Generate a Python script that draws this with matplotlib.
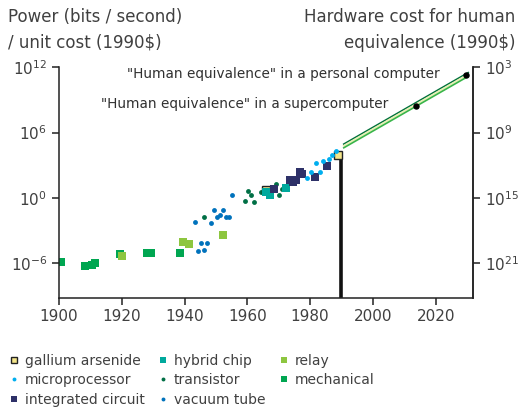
import matplotlib.pyplot as plt
import numpy as np

plt.rcParams['font.family'] = ['DejaVu Sans']
plt.rcParams['axes.unicode_minus'] = False

# log10 of power per unit cost
ga_year = [1965.9, 1989.0]
ga_val = [0.76, 3.95]

micro_year = [1979.1, 1980.2, 1981.9, 1983.2, 1984.2, 1986.0, 1987.0, 1988.2]
micro_val = [1.80, 2.42, 3.24, 2.42, 3.43, 3.55, 3.92, 4.32]

ic_year = [1968.4, 1973.6, 1974.6, 1975.4, 1976.7, 1977.4, 1981.5, 1985.3]
ic_val = [0.85, 1.62, 1.47, 1.62, 2.39, 2.17, 1.89, 2.90]

hybrid_year = [1966.1, 1967.1, 1972.3]
hybrid_val = [0.53, 0.24, 0.95]

trans_year = [1946.2, 1959.2, 1960.3, 1961.2, 1962.2, 1964.2, 1969.2, 1970.2, 1971.0]
trans_val = [-1.75, -0.25, 0.67, 0.30, -0.34, 0.51, 1.31, 0.30, 0.79]

tube_year = [1943.3, 1944.3, 1945.3, 1946.3, 1947.2, 1948.3, 1949.3, 1950.2,
             1951.4, 1952.1, 1953.1, 1954.1, 1955.2]
tube_val = [-2.21, -4.84, -4.11, -4.82, -4.14, -2.33, -1.08, -1.75,
            -1.60, -1.08, -1.78, -1.78, 0.28]

relay_year = [1920.0, 1939.4, 1941.3, 1952.1]
relay_val = [-5.37, -4.08, -4.26, -3.44]

mech_year = [1900.8, 1908.3, 1910.4, 1911.5, 1919.4, 1928.2, 1929.3, 1938.5]
mech_val = [-5.85, -6.29, -6.19, -6.01, -5.18, -5.09, -5.09, -5.09]

# projection band and human-equivalence points
band_year = [1990.5, 2030.6]
band_val = [4.74, 11.38]
human_year = [2013.6, 2029.6]
human_val = [8.48, 11.27]

fig = plt.figure(figsize=(5.21, 4.07), dpi=100)
ax = fig.add_axes([0.1132, 0.2686, 0.9085 - 0.1132, 0.8346 - 0.2686])

def p(v):
    return 10.0 ** np.array(v)

sq = dict(marker='s', linestyle='none', markersize=5.3, markeredgewidth=0)
dot = dict(marker='o', linestyle='none', markersize=3.5, markeredgewidth=0)

ax.plot(mech_year, p(mech_val), color='#00a651', label='mechanical', **sq)
ax.plot(relay_year, p(relay_val), color='#8dc63f', label='relay', **sq)
ax.plot(tube_year, p(tube_val), color='#0072bc', label='vacuum tube', **dot)
ax.plot(trans_year, p(trans_val), color='#006f45', label='transistor', **dot)
ax.plot(ga_year, p(ga_val), marker='s', linestyle='none', markersize=5.3,
        markerfacecolor='#f3e58a', markeredgecolor='#222222', markeredgewidth=1,
        label='gallium arsenide')
ax.plot(hybrid_year, p(hybrid_val), color='#00a99d', label='hybrid chip', **sq)
ax.plot(ic_year, p(ic_val), color='#2e3168', label='integrated circuit',
        marker='s', linestyle='none', markersize=6.2, markeredgewidth=0)
ax.plot(micro_year, p(micro_val), color='#00aeef', label='microprocessor', **dot)

# 1990 reference line
ax.vlines(1990, 10 ** -9.16, 10 ** 3.95, color='#111111', linewidth=2.6, zorder=1)

# band: three parallel strokes
off = 0.17
ax.plot(band_year, p(np.array(band_val) + off), color='#00703c', linewidth=1.2, solid_capstyle='butt')
ax.plot(band_year, p(band_val), color='#e6f0b4', linewidth=1.6, solid_capstyle='butt')
ax.plot(band_year, p(np.array(band_val) - off), color='#39b54a', linewidth=1.2, solid_capstyle='butt')
ax.plot(human_year, p(human_val), 'o', color='black', markersize=3.6)

ax.set_yscale('log')
ax.set_xlim(1900, 2032)
ax.set_ylim(10 ** -9.16, 10 ** 12)
ax.set_xticks([1900, 1920, 1940, 1960, 1980, 2000, 2020])
ax.set_yticks([1e-6, 1, 1e6, 1e12])
ax.yaxis.set_minor_locator(plt.NullLocator())

ax2 = ax.twinx()
ax2.set_yscale('log')
ax2.set_ylim(10 ** (15 + 9.16), 10 ** 3)
ax2.set_yticks([1e3, 1e9, 1e15, 1e21])
ax2.yaxis.set_minor_locator(plt.NullLocator())

tc = '#404040'
for a in (ax, ax2):
    a.spines['top'].set_visible(False)
    for s in a.spines.values():
        s.set_linewidth(1.1)
        s.set_color('#222222')
    a.tick_params(colors='#222222', labelcolor=tc, labelsize=11, length=5, width=1.1)
ax2.spines['left'].set_visible(False)
ax2.spines['bottom'].set_visible(False)

ax.text(2021.3, 10 ** 11.42, '"Human equivalence" in a personal computer',
        ha='right', va='center', fontsize=9.8, color='#303030')
ax.text(2004.8, 10 ** 8.67, '"Human equivalence" in a supercomputer',
        ha='right', va='center', fontsize=9.8, color='#303030')

fig.text(8 / 521, 1 - 30 / 407, 'Power (bits / second)\n/ unit cost (1990$)',
         ha='left', va='center', fontsize=12, color=tc, linespacing=1.5)
fig.text(515 / 521, 1 - 30 / 407, 'Hardware cost for human\nequivalence (1990$)',
         ha='right', va='center', fontsize=12, color=tc, linespacing=1.5,
         multialignment='right')

h, l = ax.get_legend_handles_labels()
order = ['gallium arsenide', 'microprocessor', 'integrated circuit',
         'hybrid chip', 'transistor', 'vacuum tube', 'relay', 'mechanical']
hh = [h[l.index(o)] for o in order]
leg = fig.legend(hh, order, loc='upper left', bbox_to_anchor=(0.0, 1 - 344 / 407),
                 ncol=3, frameon=False, fontsize=10, handlelength=0.6,
                 handletextpad=0.5, columnspacing=1.0, labelspacing=0.4,
                 markerscale=0.8, borderaxespad=0.3)
for t in leg.get_texts():
    t.set_color(tc)

fig.savefig('out.png', dpi=100)
